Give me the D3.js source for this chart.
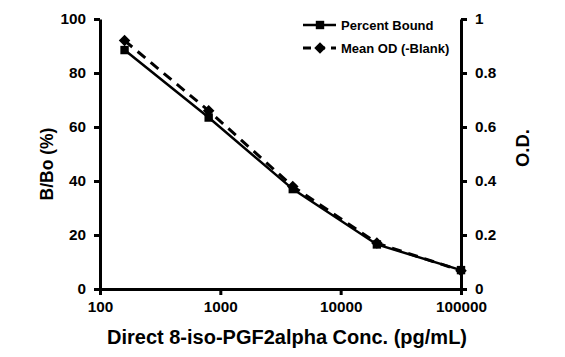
<!DOCTYPE html>
<html><head><meta charset="utf-8">
<script src="https://cdn.jsdelivr.net/npm/d3@7"></script>
<style>body{margin:0;background:#fff}svg{display:block}text{font-family:"Liberation Sans",Arial,sans-serif;font-weight:bold}</style>
</head><body>
<svg id="c" width="565" height="357"></svg>
<script>
const concentrations = [160, 800, 4000, 20000, 100000];
const percentBound = [88.5, 63.5, 37, 16.5, 7];
const meanOD = [0.92, 0.66, 0.38, 0.17, 0.068];
const xTicks = [100, 1000, 10000, 100000];
const yLeftTicks = [0, 20, 40, 60, 80, 100];
const yRightTicks = [0, 0.2, 0.4, 0.6, 0.8, 1];
const seriesNames = ["Percent Bound", "Mean OD (-Blank)"];

const svg = d3.select("#c");
const L = 100, R = 461, T = 19, B = 289;
const x = d3.scaleLog().domain([100, 100000]).range([L, R]);
const yL = d3.scaleLinear().domain([0, 100]).range([B, T]);
const yR = d3.scaleLinear().domain([0, 1]).range([B, T]);

function styleAxis(g){
  g.select(".domain").attr("stroke","#000").attr("stroke-width",3);
  g.selectAll(".tick line").attr("stroke","#000").attr("stroke-width",3);
  g.selectAll(".tick text").attr("fill","#000").style("font-size","15.3px").style("font-weight","bold");
}
svg.append("g").attr("transform",`translate(0,${B})`)
  .call(d3.axisBottom(x).tickValues(xTicks).tickFormat(d3.format("d")).tickSize(6).tickSizeOuter(0).tickPadding(6))
  .call(styleAxis);
svg.append("g").attr("transform",`translate(${L},0)`)
  .call(d3.axisLeft(yL).tickValues(yLeftTicks).tickSize(6).tickSizeOuter(0).tickPadding(8))
  .call(styleAxis);
svg.append("g").attr("transform",`translate(${R},0)`)
  .call(d3.axisRight(yR).tickValues(yRightTicks).tickFormat(d=>String(d)).tickSize(6).tickSizeOuter(0).tickPadding(8))
  .call(styleAxis);

// series
const line1 = d3.line().x((d,i)=>x(concentrations[i])).y(d=>yL(d));
const line2 = d3.line().x((d,i)=>x(concentrations[i])).y(d=>yR(d));
svg.append("path").attr("d",line2(meanOD)).attr("fill","none").attr("stroke","#000").attr("stroke-width",3).attr("stroke-dasharray","10,7");
svg.append("path").attr("d",line1(percentBound)).attr("fill","none").attr("stroke","#000").attr("stroke-width",2.5);
const diamond = d3.symbol().type(d3.symbolDiamond2).size(85);
const square = d3.symbol().type(d3.symbolSquare2).size(90);
svg.selectAll(".dm").data(meanOD).join("path").attr("transform",(d,i)=>`translate(${x(concentrations[i])},${yR(d)})`).attr("d",diamond).attr("fill","#000");
svg.selectAll(".sq").data(percentBound).join("path").attr("transform",(d,i)=>`translate(${x(concentrations[i])},${yL(d)})`).attr("d",square).attr("fill","#000");

// axis titles
svg.append("text").attr("x",287).attr("y",344).attr("text-anchor","middle").style("font-size","20px").text("Direct 8-iso-PGF2alpha Conc. (pg/mL)");
svg.append("text").attr("transform",`translate(53,164) rotate(-90)`).attr("text-anchor","middle").style("font-size","17.5px").text("B/Bo (%)");
svg.append("text").attr("transform",`translate(529,148) rotate(-90)`).attr("text-anchor","middle").style("font-size","18.5px").text("O.D.");

// legend
const lg = svg.append("g");
const ly = [25, 48];
lg.append("line").attr("x1",303).attr("x2",336).attr("y1",ly[0]).attr("y2",ly[0]).attr("stroke","#000").attr("stroke-width",2.5);
lg.append("path").attr("transform",`translate(320,${ly[0]})`).attr("d",square).attr("fill","#000");
lg.append("line").attr("x1",303).attr("x2",336).attr("y1",ly[1]).attr("y2",ly[1]).attr("stroke","#000").attr("stroke-width",3).attr("stroke-dasharray","8,6");
lg.append("path").attr("transform",`translate(320,${ly[1]})`).attr("d",diamond).attr("fill","#000");
lg.selectAll(".lt").data(seriesNames).join("text").attr("x",341).attr("y",(d,i)=>ly[i]+5).style("font-size","13px").text(d=>d);
</script>
</body></html>
